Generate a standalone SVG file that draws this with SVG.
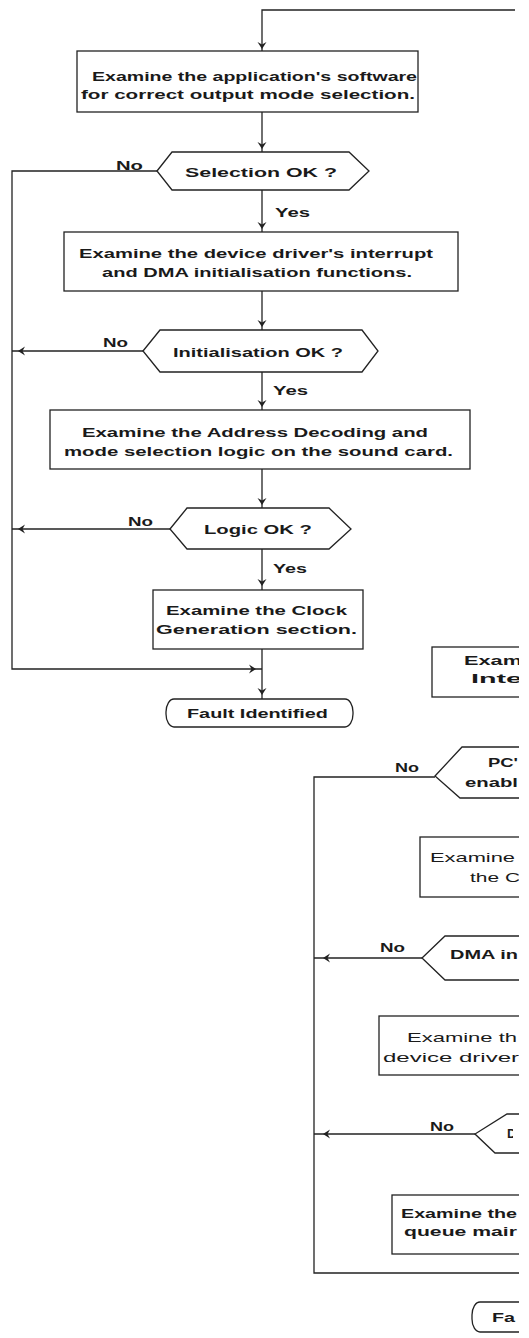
<svg xmlns="http://www.w3.org/2000/svg" width="529" height="1338" viewBox="0 0 529 1338">
  <style>
    .ln { fill: none; stroke: #222; stroke-width: 1.3; }
    .nd { fill: #fff; stroke: #222; stroke-width: 1.3; }
    .t { font-family: "Liberation Sans", Arial, sans-serif; font-size: 13px; font-weight: bold; fill: #1a1a1a; }
    .tr { font-family: "Liberation Sans", Arial, sans-serif; font-size: 13px; font-weight: normal; fill: #1a1a1a; }
    .ah { fill: #222; }
  </style>
  <defs>
    <!-- notched arrowhead, tip at origin, pointing down -->
    <path id="ah" d="M-4.5,-7 L0,-4.5 L4.5,-7 L0,0 Z"/>
    <clipPath id="page"><rect x="0" y="0" width="519" height="1338"/></clipPath>
    <clipPath id="glyphcut"><rect x="500" y="1120" width="13" height="25"/></clipPath>
  </defs>
  <rect width="529" height="1338" fill="#fff"/>

  <g clip-path="url(#page)">
    <!-- connectors -->
    <g id="connectors">
      <!-- main column -->
      <polyline class="ln" points="515,10 262,10 262,51"/>
      <line class="ln" x1="262" y1="112" x2="262" y2="152"/>
      <line class="ln" x1="262" y1="190" x2="262" y2="232"/>
      <line class="ln" x1="262" y1="291" x2="262" y2="330"/>
      <line class="ln" x1="262" y1="372" x2="262" y2="410"/>
      <line class="ln" x1="262" y1="469" x2="262" y2="508"/>
      <line class="ln" x1="262" y1="549" x2="262" y2="590"/>
      <line class="ln" x1="262" y1="649" x2="262" y2="699"/>
      <!-- failure return loop -->
      <polyline class="ln" points="157,171 12,171 12,669 262,669"/>
      <line class="ln" x1="143" y1="351" x2="12" y2="351"/>
      <line class="ln" x1="170" y1="529" x2="12" y2="529"/>
      <!-- second column return loop -->
      <polyline class="ln" points="435,777 314,777 314,1273 520,1273"/>
      <line class="ln" x1="422" y1="958" x2="314" y2="958"/>
      <line class="ln" x1="475" y1="1134" x2="314" y2="1134"/>

      <!-- arrowheads -->
      <use href="#ah" class="ah" transform="translate(262,49)"/>
      <use href="#ah" class="ah" transform="translate(262,149)"/>
      <use href="#ah" class="ah" transform="translate(262,229)"/>
      <use href="#ah" class="ah" transform="translate(262,327)"/>
      <use href="#ah" class="ah" transform="translate(262,407)"/>
      <use href="#ah" class="ah" transform="translate(262,505)"/>
      <use href="#ah" class="ah" transform="translate(262,586)"/>
      <use href="#ah" class="ah" transform="translate(262,695)"/>
      <use href="#ah" class="ah" transform="translate(18,351) rotate(90)"/>
      <use href="#ah" class="ah" transform="translate(18,529) rotate(90)"/>
      <use href="#ah" class="ah" transform="translate(256,669) rotate(-90)"/>
      <use href="#ah" class="ah" transform="translate(323,958) rotate(90)"/>
      <use href="#ah" class="ah" transform="translate(323,1134) rotate(90)"/>

      <!-- branch labels -->
      <text class="t" x="116" y="170" textLength="27" lengthAdjust="spacingAndGlyphs">No</text>
      <text class="t" x="103" y="347" textLength="25" lengthAdjust="spacingAndGlyphs">No</text>
      <text class="t" x="128" y="526" textLength="25" lengthAdjust="spacingAndGlyphs">No</text>
      <text class="t" x="275" y="217" textLength="35" lengthAdjust="spacingAndGlyphs">Yes</text>
      <text class="t" x="273" y="395" textLength="35" lengthAdjust="spacingAndGlyphs">Yes</text>
      <text class="t" x="273" y="573" textLength="34" lengthAdjust="spacingAndGlyphs">Yes</text>
      <text class="t" x="395" y="772" textLength="24" lengthAdjust="spacingAndGlyphs">No</text>
      <text class="t" x="380" y="952" textLength="25" lengthAdjust="spacingAndGlyphs">No</text>
      <text class="t" x="430" y="1131" textLength="24" lengthAdjust="spacingAndGlyphs">No</text>
    </g>

    <!-- main column nodes -->
    <g id="examine-software">
      <rect class="nd" x="77" y="51" width="341" height="61"/>
      <text class="t" x="92" y="81" textLength="325" lengthAdjust="spacingAndGlyphs">Examine the application's software</text>
      <text class="t" x="81" y="99" textLength="334" lengthAdjust="spacingAndGlyphs">for correct output mode selection.</text>
    </g>
    <g id="selection-ok">
      <polygon class="nd" points="157,171 172,152 349,152 369,171 349,190 172,190"/>
      <text class="t" x="185" y="177" textLength="152" lengthAdjust="spacingAndGlyphs">Selection OK ?</text>
    </g>
    <g id="examine-driver">
      <rect class="nd" x="64" y="232" width="394" height="59"/>
      <text class="t" x="79" y="258" textLength="354" lengthAdjust="spacingAndGlyphs">Examine the device driver's interrupt</text>
      <text class="t" x="102" y="277" textLength="310" lengthAdjust="spacingAndGlyphs">and DMA initialisation functions.</text>
    </g>
    <g id="initialisation-ok">
      <polygon class="nd" points="143,351 160,330 362,330 378,351 362,372 160,372"/>
      <text class="t" x="173" y="357" textLength="170" lengthAdjust="spacingAndGlyphs">Initialisation OK ?</text>
    </g>
    <g id="examine-decoding">
      <rect class="nd" x="50" y="410" width="420" height="59"/>
      <text class="t" x="82" y="437" textLength="346" lengthAdjust="spacingAndGlyphs">Examine the Address Decoding and</text>
      <text class="t" x="64" y="456" textLength="389" lengthAdjust="spacingAndGlyphs">mode selection logic on the sound card.</text>
    </g>
    <g id="logic-ok">
      <polygon class="nd" points="170,529 187,508 329,508 351,529 329,549 187,549"/>
      <text class="t" x="204" y="534" textLength="108" lengthAdjust="spacingAndGlyphs">Logic OK ?</text>
    </g>
    <g id="examine-clock">
      <rect class="nd" x="153" y="590" width="210" height="59"/>
      <text class="t" x="166" y="615" textLength="181" lengthAdjust="spacingAndGlyphs">Examine the Clock</text>
      <text class="t" x="156" y="634" textLength="201" lengthAdjust="spacingAndGlyphs">Generation section.</text>
    </g>
    <g id="fault-identified">
      <rect class="nd" x="166" y="699" width="187" height="28" rx="8" ry="13"/>
      <text class="t" x="187" y="718" textLength="141" lengthAdjust="spacingAndGlyphs">Fault Identified</text>
    </g>

    <!-- second column nodes -->
    <g id="examine-interrupt">
      <rect class="nd" x="432" y="647" width="140" height="50"/>
      <text class="t" x="464" y="665" textLength="58" lengthAdjust="spacingAndGlyphs">Exam</text>
      <text class="t" x="471" y="683" textLength="51" lengthAdjust="spacingAndGlyphs">Inte</text>
    </g>
    <g id="pc-enabled">
      <polyline class="nd" points="530,747 462,747 435,776 460,798 530,798"/>
      <text class="t" x="488" y="767" textLength="30" lengthAdjust="spacingAndGlyphs">PC'</text>
      <text class="t" x="465" y="787" textLength="53" lengthAdjust="spacingAndGlyphs">enabl</text>
    </g>
    <g id="examine-dma">
      <rect class="nd" x="420" y="837" width="140" height="60"/>
      <text class="tr" x="430" y="862" textLength="85" lengthAdjust="spacingAndGlyphs">Examine</text>
      <text class="tr" x="470" y="882" textLength="50" lengthAdjust="spacingAndGlyphs">the C</text>
    </g>
    <g id="dma-ok">
      <polyline class="nd" points="530,936 445,936 422,958 445,980 530,980"/>
      <text class="t" x="450" y="959" textLength="68" lengthAdjust="spacingAndGlyphs">DMA in</text>
    </g>
    <g id="examine-device-driver">
      <rect class="nd" x="379" y="1016" width="160" height="59"/>
      <text class="tr" x="407" y="1042" textLength="110" lengthAdjust="spacingAndGlyphs">Examine th</text>
      <text class="tr" x="383" y="1062" textLength="136" lengthAdjust="spacingAndGlyphs">device driver</text>
    </g>
    <g id="third-decision">
      <polyline class="nd" points="530,1114 507,1114 475,1134 495,1153 530,1153"/>
      <text class="t" x="507" y="1138" clip-path="url(#glyphcut)">D</text>
    </g>
    <g id="examine-queue">
      <rect class="nd" x="392" y="1195" width="150" height="59"/>
      <text class="t" x="401" y="1218" textLength="116" lengthAdjust="spacingAndGlyphs">Examine the</text>
      <text class="t" x="404" y="1236" textLength="113" lengthAdjust="spacingAndGlyphs">queue mair</text>
    </g>
    <g id="fault-identified-2">
      <rect class="nd" x="472" y="1302" width="120" height="30" rx="8" ry="13"/>
      <text class="t" x="492" y="1322" textLength="23" lengthAdjust="spacingAndGlyphs">Fa</text>
    </g>
  </g>
</svg>
